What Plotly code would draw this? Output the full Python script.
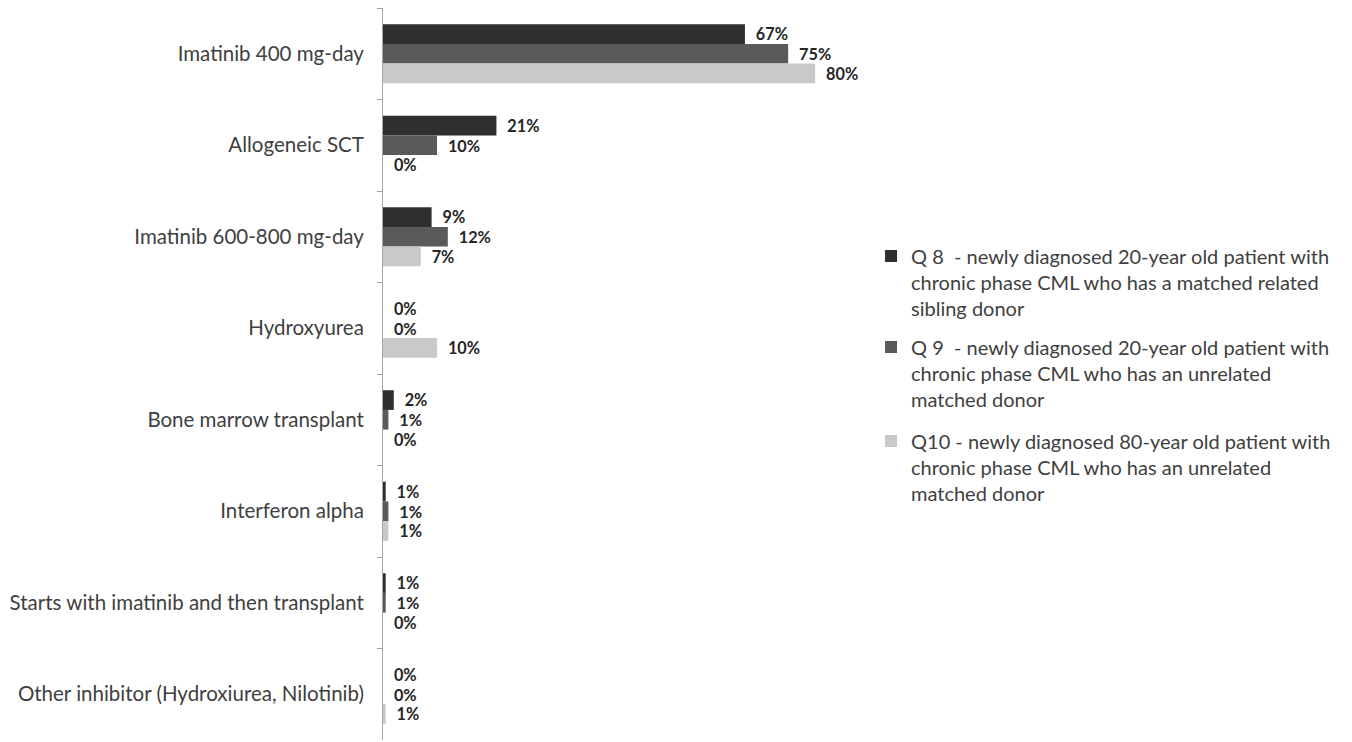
import plotly.graph_objects as go

categories = [
    "Imatinib 400 mg-day",
    "Allogeneic SCT",
    "Imatinib 600-800 mg-day",
    "Hydroxyurea",
    "Bone marrow transplant",
    "Interferon alpha",
    "Starts with imatinib and then transplant",
    "Other inhibitor (Hydroxiurea, Nilotinib)",
]
series_names = [
    "Q 8  - newly diagnosed 20-year old patient with<br>chronic phase CML who has a matched related<br>sibling donor",
    "Q 9  - newly diagnosed 20-year old patient with<br>chronic phase CML who has an unrelated<br>matched donor",
    "Q10 - newly diagnosed 80-year old patient with<br>chronic phase CML who has an unrelated<br>matched donor",
]
q8 = [67, 21, 9, 0, 2, 0.5, 0.5, 0]
q9 = [75, 10, 12, 0, 1, 1, 0.5, 0]
q10 = [80, 0, 7, 10, 0, 1, 0, 0.5]
labels_q8 = ["67%", "21%", "9%", "0%", "2%", "1%", "1%", "0%"]
labels_q9 = ["75%", "10%", "12%", "0%", "1%", "1%", "1%", "0%"]
labels_q10 = ["80%", "0%", "7%", "10%", "0%", "1%", "0%", "1%"]
colors = ["#2f2f2f", "#5a5a5a", "#c9c9c9"]

FONT = "Lato, Open Sans, sans-serif"
legend_ids = ["legend", "legend2", "legend3"]
legend_ys = [0.6877, 0.5634, 0.435]

fig = go.Figure()
pad = "\u00a0\u00a0"
for i, (name, vals, labs, col) in enumerate(zip(series_names, [q8, q9, q10],
                                 [labels_q8, labels_q9, labels_q10], colors)):
    fig.add_trace(go.Bar(
        y=categories, x=vals, name=name, orientation="h",
        legend=legend_ids[i],
        marker=dict(color=col, line=dict(width=0)),
        text=[pad + t for t in labs], textposition="outside",
        textfont=dict(family=FONT, size=19, color="#262626", weight="bold"),
        cliponaxis=False,
    ))

legend_style = dict(
    x=1.0231, xanchor="left", yanchor="top",
    font=dict(family=FONT, size=20, color="#404040"),
    valign="top", itemwidth=30, bgcolor="rgba(0,0,0,0)",
)

fig.update_layout(
    width=1352, height=742,
    margin=dict(l=375, r=500, t=0, b=10, autoexpand=False),
    paper_bgcolor="white", plot_bgcolor="white",
    barmode="group", bargap=0.355, bargroupgap=0,
    showlegend=True,
    legend=dict(y=legend_ys[0], **legend_style),
    legend2=dict(y=legend_ys[1], **legend_style),
    legend3=dict(y=legend_ys[2], **legend_style),
    xaxis=dict(range=[0, 88.3], visible=False, fixedrange=True, automargin=False),
    yaxis=dict(
        autorange="reversed", type="category", automargin=False,
        showline=True, linecolor="#a6a6a6", linewidth=1,
        ticks="outside", ticklen=5, tickcolor="#a6a6a6", tickson="boundaries",
        tickfont=dict(family=FONT, size=20.5, color="#404040"),
        ticklabelstandoff=14, showgrid=False, zeroline=False,
    ),
)

fig.write_html("out.html")
